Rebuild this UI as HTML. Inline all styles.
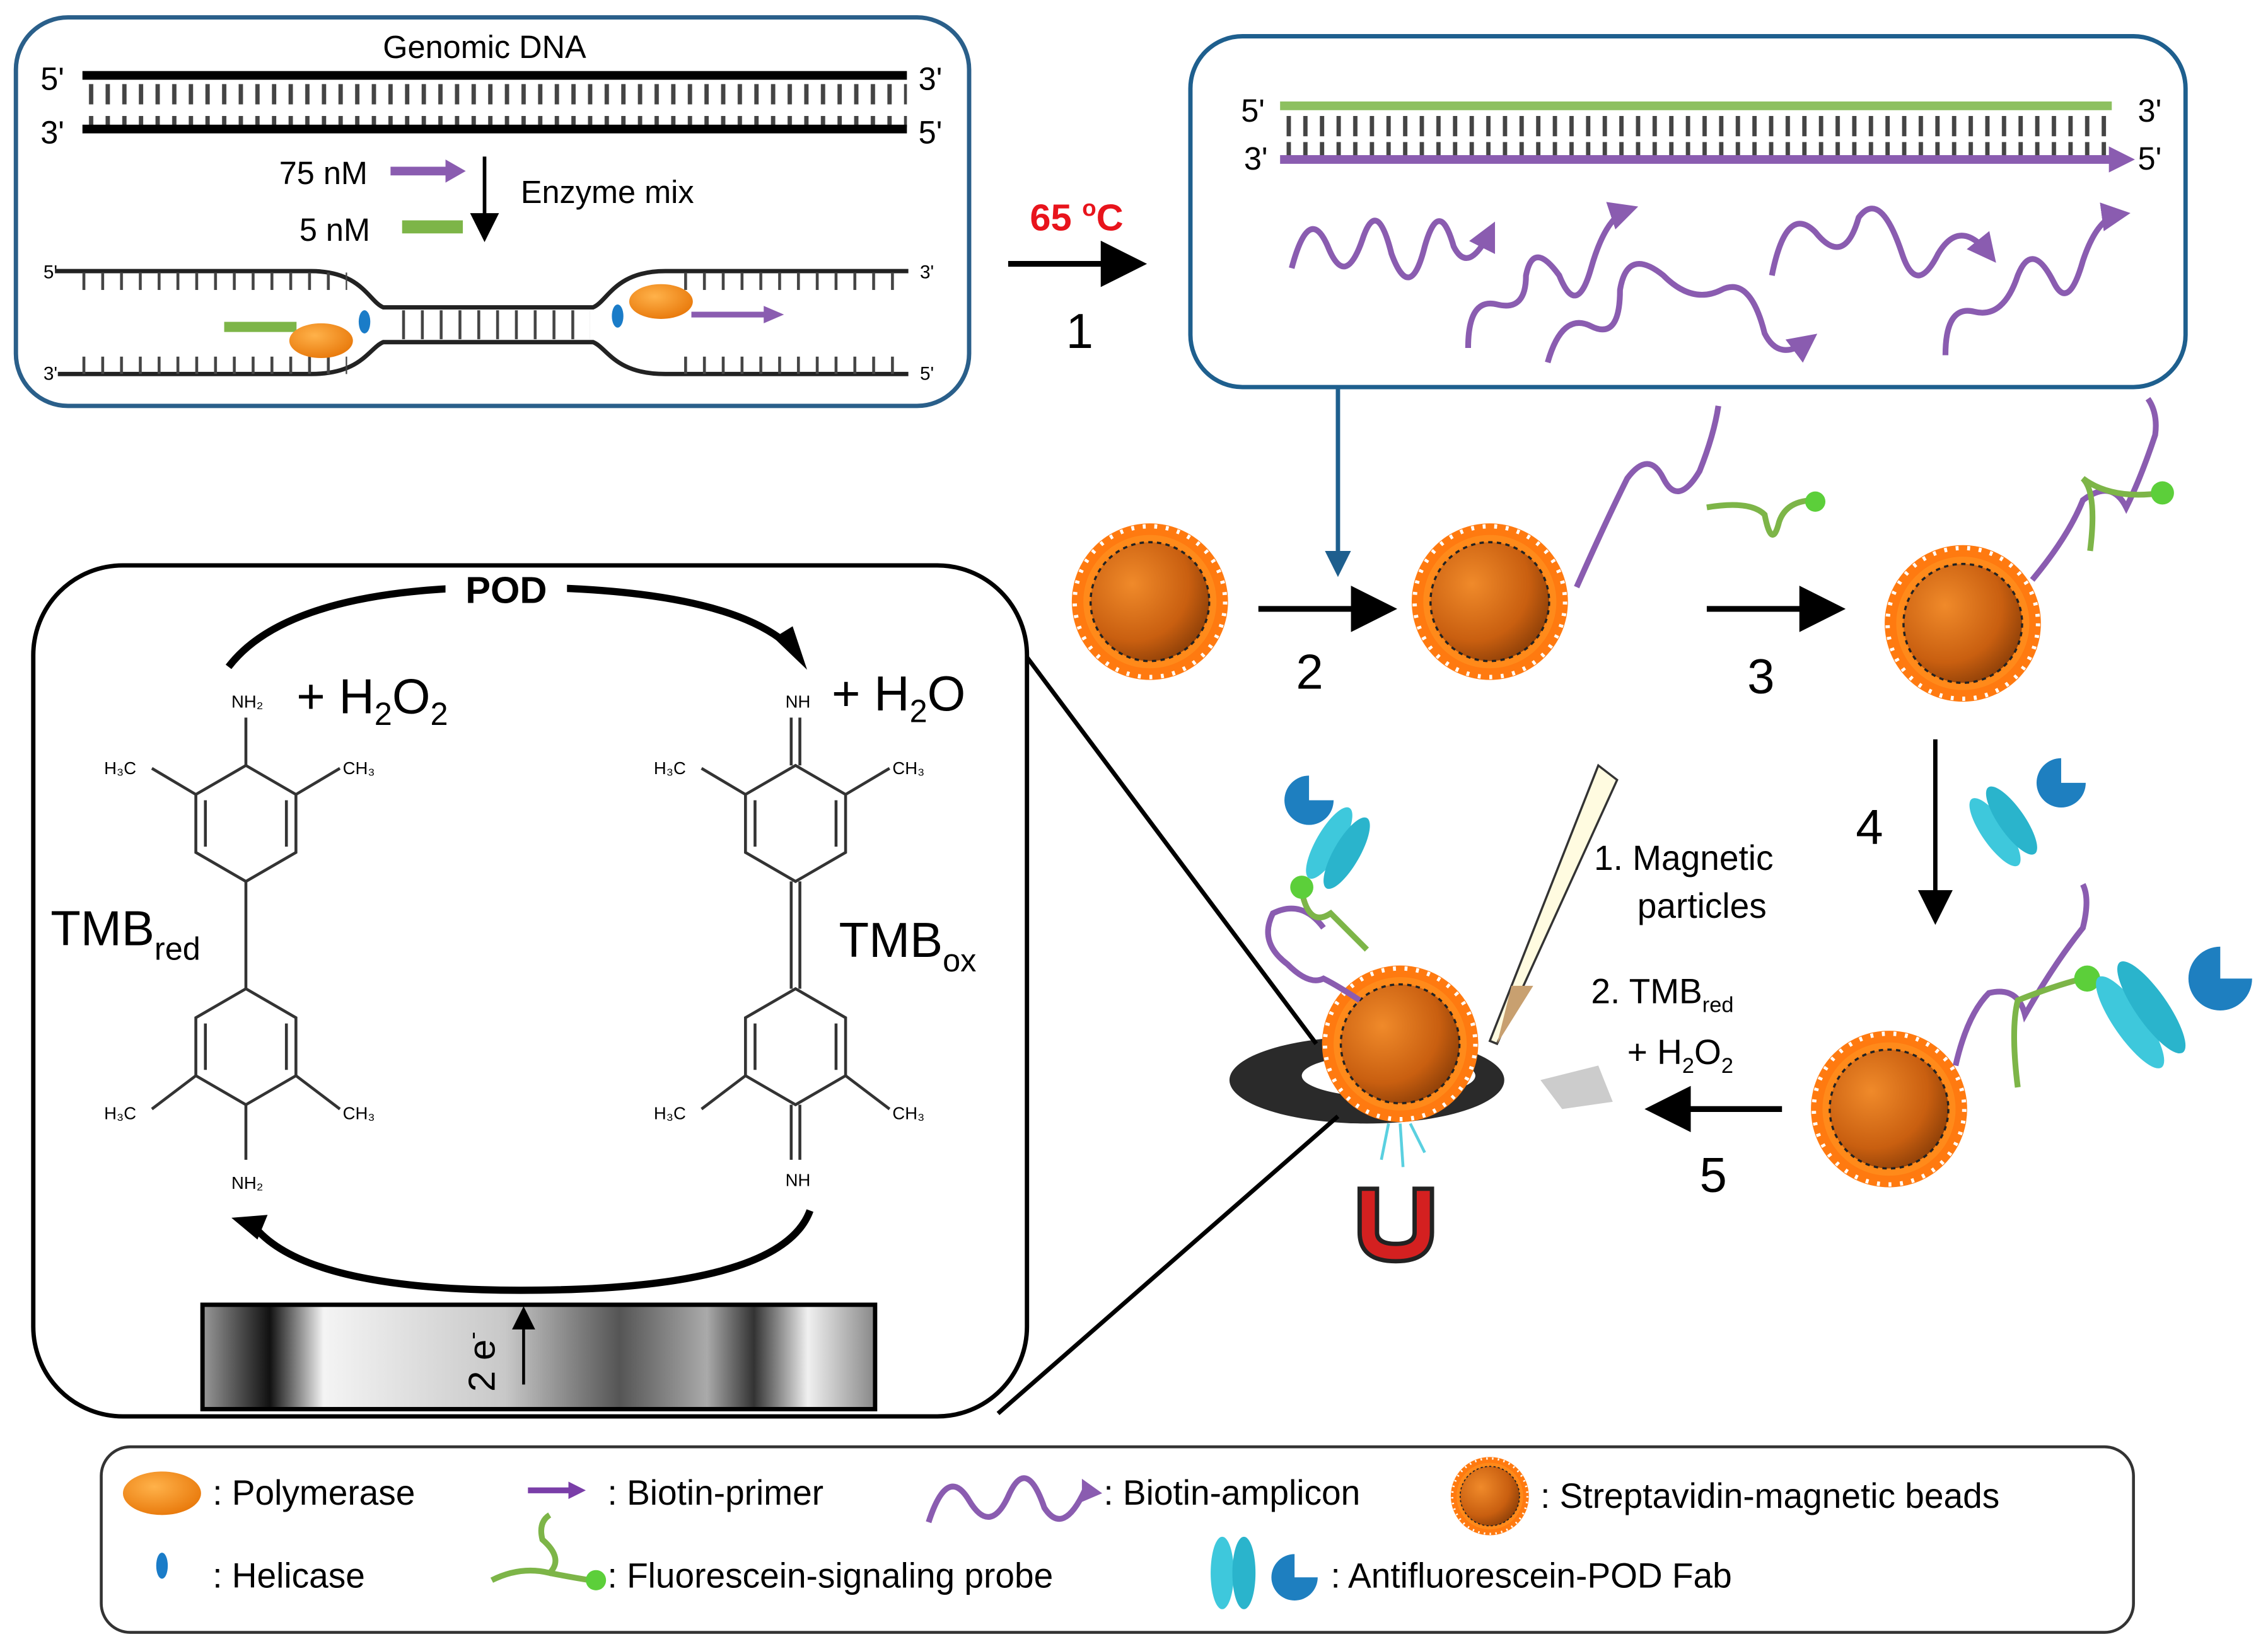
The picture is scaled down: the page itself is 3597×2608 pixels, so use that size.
<!DOCTYPE html>
<html><head><meta charset="utf-8"><style>
html,body{margin:0;padding:0;background:#fff;}
svg{display:block;}
text{font-family:"Liberation Sans",sans-serif;}
</style></head><body>
<svg width="3597" height="2608" viewBox="0 0 1568 1134" preserveAspectRatio="none" xmlns="http://www.w3.org/2000/svg">
<defs>
<radialGradient id="core" cx="0.35" cy="0.35" r="0.8">
<stop offset="0" stop-color="#f08a2a"/><stop offset="0.6" stop-color="#c95f10"/><stop offset="1" stop-color="#7a3505"/></radialGradient>
<radialGradient id="pol" cx="0.4" cy="0.35" r="0.7"><stop offset="0" stop-color="#ffb24a"/><stop offset="1" stop-color="#e8780a"/></radialGradient>
<linearGradient id="elec" x1="0" x2="1" y1="0" y2="0">
<stop offset="0" stop-color="#999"/><stop offset="0.1" stop-color="#111"/><stop offset="0.18" stop-color="#f4f4f4"/><stop offset="0.45" stop-color="#c8c8c8"/><stop offset="0.62" stop-color="#555"/><stop offset="0.75" stop-color="#aaa"/><stop offset="0.82" stop-color="#333"/><stop offset="0.9" stop-color="#f0f0f0"/><stop offset="1" stop-color="#888"/></linearGradient>
<g id="bead">
<circle r="54" fill="#ff7a10"/>
<circle r="52" fill="none" stroke="#fff" stroke-width="3" stroke-dasharray="2 6"/>
<circle r="46" fill="#ff8a1a"/>
<circle r="41" fill="url(#core)" stroke="#222" stroke-width="1.5" stroke-dasharray="3 3"/>
</g>
<g id="hex" fill="none" stroke="#333" stroke-width="2">
<polygon points="0,-40 34.6,-20 34.6,20 0,40 -34.6,20 -34.6,-20"/>
<line x1="28" y1="-16" x2="28" y2="16"/><line x1="-28" y1="-16" x2="-28" y2="16"/>
</g>
<marker id="ah" markerWidth="8" markerHeight="8" refX="6" refY="4" orient="auto" markerUnits="strokeWidth"><path d="M0,0 L8,4 L0,8 Z" fill="#000"/></marker>
<marker id="ahp" markerWidth="5" markerHeight="5" refX="3" refY="2.5" orient="auto" markerUnits="strokeWidth"><path d="M0,0 L5,2.5 L0,5 Z" fill="#8a5cb0"/></marker>
<marker id="ahb" markerWidth="6" markerHeight="6" refX="4" refY="3" orient="auto" markerUnits="strokeWidth"><path d="M0,0 L6,3 L0,6 Z" fill="#1e5f8e"/></marker>
<pattern id="ticks" width="11.5" height="40" patternUnits="userSpaceOnUse"><rect x="4" y="0" width="3" height="14" fill="#444"/><rect x="4" y="18" width="3" height="14" fill="#444"/></pattern>
<pattern id="ticks2" width="13" height="20" patternUnits="userSpaceOnUse"><rect x="5" y="0" width="2" height="20" fill="#444"/></pattern>
</defs>

<!-- Box 1 -->
<rect x="11" y="12" width="659" height="268" rx="36" fill="#fff" stroke="#2a5f8a" stroke-width="3"/>
<text x="335" y="40" font-size="22" text-anchor="middle">Genomic DNA</text>
<rect x="57" y="49" width="570" height="6" fill="#000"/>
<rect x="57" y="56" width="570" height="32" fill="url(#ticks)"/>
<rect x="57" y="86" width="570" height="6" fill="#000"/>
<text x="28" y="62" font-size="22">5'</text><text x="635" y="62" font-size="22">3'</text>
<text x="28" y="99" font-size="22">3'</text><text x="635" y="99" font-size="22">5'</text>
<text x="193" y="127" font-size="22">75 nM</text>
<line x1="270" y1="118" x2="310" y2="118" stroke="#8a5cb0" stroke-width="6"/><path d="M308,110 L322,118 L308,126Z" fill="#8a5cb0"/>
<line x1="335" y1="108" x2="335" y2="162" stroke="#000" stroke-width="2.5" marker-end="url(#ah)"/>
<text x="360" y="140" font-size="22">Enzyme mix</text>
<text x="207" y="166" font-size="22">5 nM</text>
<rect x="278" y="152" width="42" height="9" fill="#7db548"/>
<text x="30" y="192" font-size="13">5'</text><text x="636" y="192" font-size="13">3'</text>
<text x="30" y="262" font-size="13">3'</text><text x="636" y="262" font-size="13">5'</text>
<path d="M38,187 H215 C250,187 255,208 265,212 H410 C420,208 425,187 460,187 H628" fill="none" stroke="#222" stroke-width="3"/>
<path d="M40,258 H215 C250,258 255,240 265,236 H410 C420,240 425,258 460,258 H628" fill="none" stroke="#222" stroke-width="3"/>
<rect x="50" y="188" width="190" height="12" fill="url(#ticks2)"/>
<rect x="50" y="246" width="190" height="12" fill="url(#ticks2)"/>
<rect x="268" y="214" width="140" height="20" fill="url(#ticks2)"/>
<rect x="465" y="188" width="160" height="12" fill="url(#ticks2)"/>
<rect x="465" y="246" width="160" height="12" fill="url(#ticks2)"/>
<rect x="155" y="222" width="50" height="7" fill="#7db548"/>
<ellipse cx="222" cy="235" rx="22" ry="12" fill="url(#pol)"/>
<ellipse cx="252" cy="222" rx="4" ry="8" fill="#1a7cc8"/>
<ellipse cx="427" cy="218" rx="4" ry="8" fill="#1a7cc8"/>
<ellipse cx="457" cy="208" rx="22" ry="12" fill="url(#pol)"/>
<line x1="478" y1="217" x2="530" y2="217" stroke="#8a5cb0" stroke-width="4"/><path d="M528,211 L542,217 L528,223Z" fill="#8a5cb0"/>

<!-- step 1 -->
<text x="712" y="159" font-size="26" font-weight="bold" fill="#e8141c">65 <tspan font-size="16" dy="-10">o</tspan><tspan dy="10">C</tspan></text>
<line x1="697" y1="182" x2="785" y2="182" stroke="#000" stroke-width="4" marker-end="url(#ah)"/>
<text x="737" y="240" font-size="34">1</text>

<!-- Box 2 -->
<rect x="823" y="25" width="688" height="242" rx="36" fill="#fff" stroke="#1e5f8e" stroke-width="3"/>
<text x="858" y="84" font-size="22">5'</text><text x="1478" y="84" font-size="22">3'</text>
<text x="860" y="117" font-size="22">3'</text><text x="1478" y="117" font-size="22">5'</text>
<rect x="885" y="70" width="575" height="6" fill="#8dc060"/>
<rect x="885" y="78" width="575" height="30" fill="url(#ticks)"/>
<rect x="885" y="107" width="575" height="6" fill="#8a5cb0"/>
<path d="M1458,101 L1476,110 L1458,119Z" fill="#8a5cb0"/>
<g fill="none" stroke="#8a5cb0" stroke-width="4" stroke-linejoin="round">
<path d="M893,185 Q905,140 918,170 Q930,200 942,165 Q952,135 962,175 Q975,210 985,170 Q995,135 1005,170 Q1015,190 1030,160" marker-end="url(#ahp)"/>
<path d="M1015,240 Q1015,205 1035,210 Q1055,215 1055,190 Q1060,165 1078,190 Q1090,220 1100,185 Q1110,150 1125,145" marker-end="url(#ahp)"/>
<path d="M1070,250 Q1080,215 1100,225 Q1120,235 1120,200 Q1125,170 1150,190 Q1170,210 1190,200 Q1210,190 1220,230 Q1230,250 1250,235" marker-end="url(#ahp)"/>
<path d="M1225,190 Q1235,140 1255,160 Q1275,185 1285,150 Q1300,130 1315,175 Q1325,205 1340,175 Q1355,150 1375,175" marker-end="url(#ahp)"/>
<path d="M1345,245 Q1345,210 1365,215 Q1385,220 1395,190 Q1405,165 1420,195 Q1430,215 1440,180 Q1450,150 1465,148" marker-end="url(#ahp)"/>
</g>
<line x1="925" y1="268" x2="925" y2="392" stroke="#1e5f8e" stroke-width="3" marker-end="url(#ahb)"/>

<!-- beads row -->
<use href="#bead" x="795" y="415"/>
<line x1="870" y1="420" x2="958" y2="420" stroke="#000" stroke-width="4" marker-end="url(#ah)"/>
<text x="896" y="475" font-size="34">2</text>
<use href="#bead" x="1030" y="415"/>
<path d="M1090,405 Q1110,360 1125,330 Q1140,310 1150,330 Q1160,350 1175,325 Q1185,300 1188,280" fill="none" stroke="#8a5cb0" stroke-width="4"/>
<path d="M1180,350 Q1210,345 1220,355 Q1225,380 1230,360 Q1235,345 1255,345" fill="none" stroke="#7db548" stroke-width="4"/>
<circle cx="1255" cy="346" r="7" fill="#5ccf3a"/>
<line x1="1180" y1="420" x2="1268" y2="420" stroke="#000" stroke-width="4" marker-end="url(#ah)"/>
<text x="1208" y="478" font-size="34">3</text>
<use href="#bead" x="1357" y="430"/>
<path d="M1405,400 Q1430,370 1440,345 Q1460,330 1470,350 Q1480,330 1490,300 Q1492,285 1485,275" fill="none" stroke="#8a5cb0" stroke-width="4"/>
<path d="M1445,380 Q1450,340 1440,330 Q1460,345 1495,340" fill="none" stroke="#7db548" stroke-width="4"/>
<circle cx="1495" cy="340" r="8" fill="#5ccf3a"/>
<line x1="1338" y1="510" x2="1338" y2="632" stroke="#000" stroke-width="3" marker-end="url(#ah)"/>
<text x="1283" y="582" font-size="34">4</text>
<g transform="translate(1385,570) rotate(-35)"><ellipse cx="-7" cy="0" rx="9" ry="28" fill="#3ec8dc"/><ellipse cx="7" cy="0" rx="9" ry="28" fill="#2ab4cc"/></g>
<path d="M1425,540 L1442,540 A17,17 0 1 1 1425,523 Z" fill="#1e7fc0"/>
<use href="#bead" x="1306" y="765"/>
<path d="M1352,735 Q1360,700 1375,685 Q1395,680 1400,700 Q1420,665 1440,640 Q1445,620 1440,610" fill="none" stroke="#8a5cb0" stroke-width="4"/>
<path d="M1395,750 Q1390,710 1395,690 Q1420,680 1440,675" fill="none" stroke="#7db548" stroke-width="4"/>
<circle cx="1443" cy="675" r="9" fill="#5ccf3a"/>
<g transform="translate(1480,700) rotate(-35)"><ellipse cx="-9" cy="0" rx="11" ry="38" fill="#3ec8dc"/><ellipse cx="9" cy="0" rx="11" ry="38" fill="#2ab4cc"/></g>
<path d="M1535,675 L1557,675 A22,22 0 1 1 1535,653 Z" fill="#1e7fc0"/>
<line x1="1232" y1="765" x2="1145" y2="765" stroke="#000" stroke-width="4" marker-end="url(#ah)"/>
<text x="1175" y="822" font-size="34">5</text>
<text x="1102" y="600" font-size="24">1. Magnetic</text>
<text x="1132" y="633" font-size="24">particles</text>
<text x="1100" y="692" font-size="24">2. TMB<tspan font-size="15" dy="6">red</tspan></text>
<text x="1125" y="734" font-size="24">+ H<tspan font-size="15" dy="6">2</tspan><tspan dy="-6">O</tspan><tspan font-size="15" dy="6">2</tspan></text>

<!-- detection area -->
<ellipse cx="945" cy="745" rx="95" ry="30" fill="#2a2a2a"/>
<ellipse cx="960" cy="742" rx="60" ry="15" fill="#fff"/>
<path d="M1065,745 L1105,735 L1115,760 L1080,765Z" fill="#ccc"/>
<path d="M1105,528 L1118,538 L1035,720 L1030,718Z" fill="#fffbe0" stroke="#333" stroke-width="1.5"/>
<path d="M1045,680 L1060,680 L1035,720Z" fill="#c8a070"/>
<use href="#bead" x="968" y="720"/>
<path d="M915,640 Q900,620 880,630 Q870,650 890,665 Q905,680 915,675 Q925,680 940,690" fill="none" stroke="#8a5cb0" stroke-width="4"/>
<path d="M900,615 Q905,640 920,630 Q935,645 945,655" fill="none" stroke="#7db548" stroke-width="4"/>
<circle cx="900" cy="612" r="8" fill="#5ccf3a"/>
<g transform="translate(925,585) rotate(30)"><ellipse cx="-7" cy="0" rx="9" ry="28" fill="#3ec8dc"/><ellipse cx="7" cy="0" rx="9" ry="28" fill="#2ab4cc"/></g>
<path d="M905,552 L922,552 A17,17 0 1 1 905,535 Z" fill="#1e7fc0"/>
<g stroke="#5ad0e0" stroke-width="2"><line x1="960" y1="775" x2="955" y2="800"/><line x1="968" y1="775" x2="970" y2="805"/><line x1="975" y1="775" x2="985" y2="795"/></g>
<path d="M940,820 L940,850 Q940,870 965,870 Q990,870 990,850 L990,820 L978,820 L978,850 Q978,858 965,858 Q952,858 952,850 L952,820Z" fill="#d42020" stroke="#222" stroke-width="3"/>

<!-- zoom lines -->
<line x1="700" y1="440" x2="910" y2="720" stroke="#000" stroke-width="3"/>
<line x1="690" y1="975" x2="925" y2="770" stroke="#000" stroke-width="3"/>

<!-- Left big box -->
<rect x="23" y="390" width="687" height="587" rx="62" fill="#fff" stroke="#000" stroke-width="3"/>
<path d="M158,460 Q200,405 350,405 Q500,405 545,445" fill="none" stroke="#000" stroke-width="5"/>
<path d="M535,440 L558,462 L548,432Z" fill="#000"/>
<rect x="308" y="395" width="84" height="24" fill="#fff"/>
<text x="350" y="416" font-size="26" font-weight="bold" text-anchor="middle">POD</text>
<path d="M560,835 Q540,890 360,890 Q210,890 175,845" fill="none" stroke="#000" stroke-width="5"/>
<path d="M160,840 L185,838 L178,855Z" fill="#000"/>
<use href="#hex" x="170" y="568"/><use href="#hex" x="170" y="722"/>
<g stroke="#333" stroke-width="2" fill="none">
<line x1="170" y1="528" x2="170" y2="495"/><line x1="170" y1="608" x2="170" y2="682"/><line x1="170" y1="762" x2="170" y2="800"/>
<line x1="135.4" y1="548" x2="105" y2="530"/><line x1="204.6" y1="548" x2="235" y2="530"/>
<line x1="135.4" y1="742" x2="105" y2="765"/><line x1="204.6" y1="742" x2="235" y2="765"/>
</g>
<text x="160" y="488" font-size="12">NH₂</text><text x="160" y="820" font-size="12">NH₂</text>
<text x="72" y="534" font-size="12">H₃C</text><text x="237" y="534" font-size="12">CH₃</text>
<text x="72" y="772" font-size="12">H₃C</text><text x="237" y="772" font-size="12">CH₃</text>
<text x="35" y="652" font-size="34">TMB<tspan font-size="22" dy="10">red</tspan></text>
<text x="205" y="492" font-size="34">+ H<tspan font-size="22" dy="8">2</tspan><tspan dy="-8">O</tspan><tspan font-size="22" dy="8">2</tspan></text>
<use href="#hex" x="550" y="568"/><use href="#hex" x="550" y="722"/>
<g stroke="#333" stroke-width="2" fill="none">
<line x1="547" y1="528" x2="547" y2="495"/><line x1="553" y1="528" x2="553" y2="495"/>
<line x1="547" y1="608" x2="547" y2="682"/><line x1="553" y1="608" x2="553" y2="682"/>
<line x1="547" y1="762" x2="547" y2="800"/><line x1="553" y1="762" x2="553" y2="800"/>
<line x1="515.4" y1="548" x2="485" y2="530"/><line x1="584.6" y1="548" x2="615" y2="530"/>
<line x1="515.4" y1="742" x2="485" y2="765"/><line x1="584.6" y1="742" x2="615" y2="765"/>
</g>
<text x="543" y="488" font-size="12">NH</text><text x="543" y="818" font-size="12">NH</text>
<text x="452" y="534" font-size="12">H₃C</text><text x="617" y="534" font-size="12">CH₃</text>
<text x="452" y="772" font-size="12">H₃C</text><text x="617" y="772" font-size="12">CH₃</text>
<text x="580" y="660" font-size="34">TMB<tspan font-size="22" dy="10">ox</tspan></text>
<text x="575" y="490" font-size="34">+ H<tspan font-size="22" dy="8">2</tspan><tspan dy="-8">O</tspan></text>
<rect x="140" y="900" width="465" height="72" fill="url(#elec)" stroke="#000" stroke-width="3"/>
<line x1="362" y1="955" x2="362" y2="905" stroke="#000" stroke-width="2" marker-end="url(#ah)"/>
<text transform="translate(342,960) rotate(-90)" font-size="26">2 e<tspan font-size="16" dy="-10">-</tspan></text>

<!-- Legend -->
<rect x="70" y="998" width="1405" height="128" rx="20" fill="#fff" stroke="#333" stroke-width="2"/>
<ellipse cx="112" cy="1030" rx="27" ry="15" fill="url(#pol)"/>
<text x="147" y="1038" font-size="24">: Polymerase</text>
<line x1="365" y1="1028" x2="395" y2="1028" stroke="#7a3ea8" stroke-width="4"/><path d="M393,1022 L405,1028 L393,1034Z" fill="#7a3ea8"/>
<text x="420" y="1038" font-size="24">: Biotin-primer</text>
<path d="M642,1050 Q655,1010 670,1035 Q685,1060 698,1030 Q710,1005 722,1040 Q735,1060 750,1028" fill="none" stroke="#8a5cb0" stroke-width="4"/>
<path d="M748,1020 L762,1030 L748,1036Z" fill="#8a5cb0"/>
<text x="763" y="1038" font-size="24">: Biotin-amplicon</text>
<g transform="translate(1030,1032) scale(0.5)"><use href="#bead"/></g>
<text x="1065" y="1040" font-size="24">: Streptavidin-magnetic beads</text>
<ellipse cx="112" cy="1080" rx="4" ry="9" fill="#1a7cc8"/>
<text x="147" y="1095" font-size="24">: Helicase</text>
<path d="M340,1090 Q360,1080 380,1085 Q390,1075 375,1062 Q372,1050 380,1045" fill="none" stroke="#7db548" stroke-width="4"/>
<path d="M380,1085 Q395,1088 408,1090" fill="none" stroke="#7db548" stroke-width="4"/>
<circle cx="412" cy="1090" r="7" fill="#5ccf3a"/>
<text x="420" y="1095" font-size="24">: Fluorescein-signaling probe</text>
<ellipse cx="845" cy="1085" rx="8" ry="25" fill="#3ec8dc"/><ellipse cx="860" cy="1085" rx="8" ry="25" fill="#2ab4cc"/>
<path d="M895,1088 L911,1088 A16,16 0 1 1 895,1072 Z" fill="#1e7fc0"/>
<text x="920" y="1095" font-size="24">: Antifluorescein-POD Fab</text>
</svg>
</body></html>
